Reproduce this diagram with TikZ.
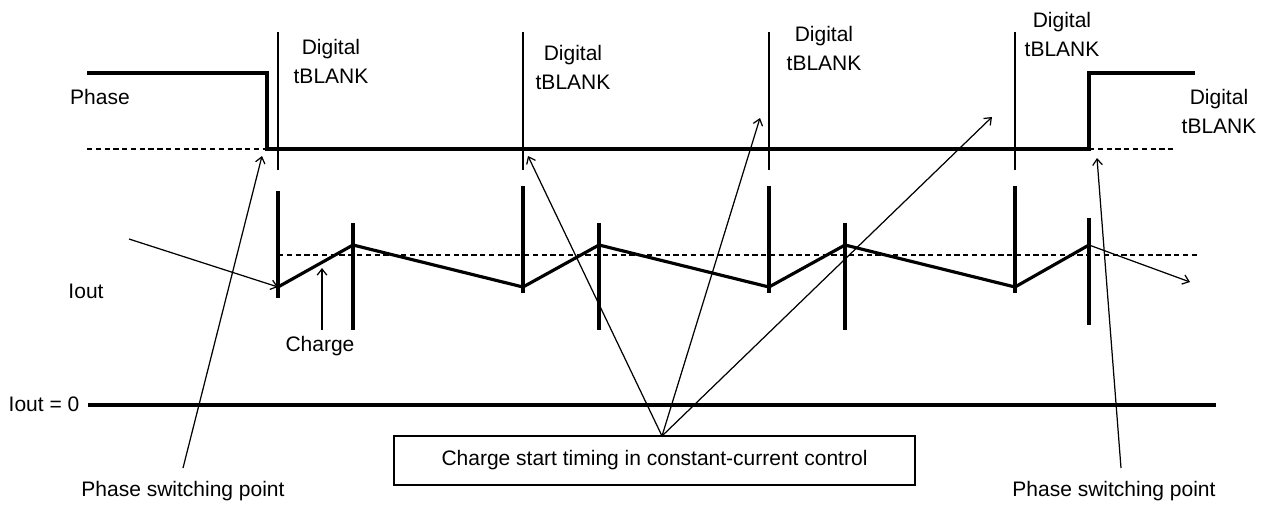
\documentclass[tikz,border=0pt]{standalone}
\usepackage{fontspec}
\setmainfont{Liberation Sans}
\usepackage{tikz}
\usetikzlibrary{positioning,arrows,arrows.meta}

\begin{document}
\begin{tikzpicture}[x=0.02cm, y=-0.02cm,
	lbl/.style={font=\fontsize{11.95pt}{16.5pt}\selectfont, inner sep=0pt, align=center},
	wave/.style={line width=1.8pt},
	hair/.style={line width=0.7pt},
	guide/.style={line width=0.7pt, dash pattern=on 3pt off 2pt},
	pointer/.style={-{Straight Barb[length=3.5pt,width=5.5pt]}, line width=0.7pt},
	frame/.style={rectangle, draw, line width=0.8pt, minimum width=10.42cm, minimum height=0.98cm}
	]
	\useasboundingbox (0,0) rectangle (1269,505);

	\coordinate (p0) at (87,73);
	\coordinate (p1) at (267,73);
	\coordinate (p2) at (267,149);
	\coordinate (p3) at (1089,149);
	\coordinate (p4) at (1089,73);
	\coordinate (p5) at (1195,73);
	\coordinate (d0) at (87,149);
	\coordinate (d1) at (1175,149);
	\draw[wave] (p0) -- (p1) -- (p2) -- (p3) -- (p4) -- (p5);
	\draw[guide] (d0) -- (p2);
	\draw[guide] (p3) -- (d1);
	\node (ph) [lbl] at (100,97) {Phase};

	\foreach \x in {278,523,769,1015}
		\draw[hair] (\x,32) -- (\x,170);
	\node (g1) [lbl] at (331,61) {Digital\\tBLANK};
	\node (g2) [lbl] at (573,67) {Digital\\tBLANK};
	\node (g3) [lbl] at (824,48) {Digital\\tBLANK};
	\node (g4) [lbl] at (1062,34) {Digital\\tBLANK};
	\node (g5) [lbl] at (1219,111) {Digital\\tBLANK};

	\coordinate (t1) at (278,287);
	\coordinate (k1) at (353,245);
	\coordinate (t2) at (523,287);
	\coordinate (k2) at (599,245);
	\coordinate (t3) at (769,287);
	\coordinate (k3) at (845,245);
	\coordinate (t4) at (1015,287);
	\coordinate (k4) at (1089,245);
	\coordinate (k5) at (1190,282);
	\draw[guide] (278,255) -- (1199,255);
	\draw[wave] (t1) -- (k1) -- (t2) -- (k2) -- (t3) -- (k3) -- (t4) -- (k4);
	\draw[pointer] (k4) -- (k5);
	\draw[wave] (278,191) -- (278,298);
	\foreach \x in {523,769,1015}
		\draw[wave] (\x,186) -- (\x,293);
	\foreach \x in {353,599,845}
		\draw[wave] (\x,223) -- (\x,330);
	\draw[wave] (1089,218) -- (1089,325);

	\node (io) [lbl] at (86,291) {Iout};
	\coordinate (a0) at (129,239);
	\draw[pointer] (a0) -- (t1);
	\node (chg) [lbl] at (320,346) {Charge};
	\coordinate (c0) at (322,330);
	\coordinate (c1) at (322,268);
	\draw[pointer] (c0) -- (c1);

	\node (z) [lbl] at (44,404) {Iout = 0};
	\coordinate (z0) at (88,405);
	\coordinate (z1) at (1216,405);
	\draw[wave] (z0) -- (z1);

	\node (box) [frame, lbl] at (654.5,460.5) {Charge start timing in constant-current control};
	\coordinate (bt) at (662,436);
	\coordinate (s1) at (528,156);
	\coordinate (s2) at (760,118);
	\coordinate (s3) at (992,117);
	\foreach \s in {s1,s2,s3}
		\draw[pointer] (bt) -- (\s);

	\node (sw1) [lbl] at (183,491) {Phase switching point};
	\node (sw2) [lbl] at (1114,491) {Phase switching point};
	\coordinate (w1) at (183,468);
	\coordinate (w2) at (1121,468);
	\coordinate (e1) at (262,156);
	\coordinate (e2) at (1097,158);
	\draw[pointer] (w1) -- (e1);
	\draw[pointer] (w2) -- (e2);
\end{tikzpicture}
\end{document}
